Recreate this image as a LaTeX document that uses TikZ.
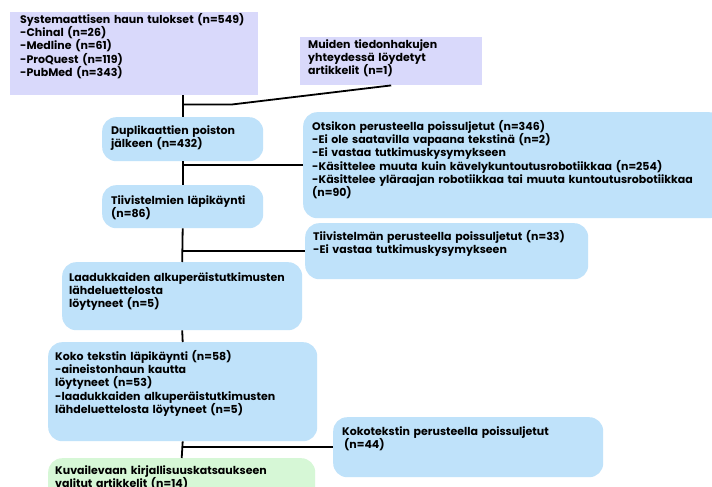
\documentclass[tikz,border=0pt]{standalone}
\usepackage{fontspec}
\setmainfont{Poppins}
\usepackage{tikz}
\usetikzlibrary{calc,positioning}
\definecolor{searchlav}{RGB}{217,217,251}
\definecolor{stageblue}{RGB}{191,226,250}
\definecolor{finalgreen}{RGB}{214,247,214}

\begin{document}
\begin{tikzpicture}[
  x=1pt, y=-1pt,
  font=\fontsize{11}{13.3}\selectfont\bfseries,
  box/.style={anchor=north west, align=left, inner ysep=0pt, inner xsep=8pt},
  search/.style={box, fill=searchlav},
  stage/.style={box, fill=stageblue, rounded corners=14pt},
  excl/.style={stage},
  result/.style={box, fill=finalgreen, rounded corners=14pt},
  link/.style={draw=black, line width=1.8pt}
]
\clip (0,0) rectangle (712,487);
\fill[white] (0,0) rectangle (712,487);
% search results
\node[search, inner xsep=10pt, text width=228pt, text height=11pt, text depth=72pt] (src) at (10,12)
  {Systemaattisen haun tulokset (n=549)\\-Chinal (n=26)\\-Medline (n=61)\\-ProQuest (n=119)\\-PubMed (n=343)};
\node[search, text width=166pt, text height=11pt, text depth=37pt] (other) at (300,37)
  {Muiden tiedonhakujen\\yhteydessä löydetyt\\artikkelit (n=1)};
% screening stages
\node[stage, inner xsep=9pt, text width=143pt, text height=17pt, text depth=27pt] (dup) at (102,117)
  {Duplikaattien poiston\\jälkeen (n=432)};
\node[stage, inner xsep=9pt, text width=143pt, text height=19pt, text depth=24pt] (tiiv) at (102,185)
  {Tiivistelmien läpikäynti\\(n=86)};
\node[stage, inner xsep=7pt, text width=226pt, text height=19pt, text depth=49pt] (laad) at (62,262)
  {Laadukkaiden alkuperäistutkimusten\\lähdeluettelosta\\löytyneet (n=5)};
\node[stage, inner xsep=7pt, text width=255pt, text height=18pt, text depth=81pt] (koko) at (48,342)
  {Koko tekstin läpikäynti (n=58)\\-aineistonhaun kautta\\löytyneet (n=53)\\-laadukkaiden alkuperäistutkimusten\\lähdeluettelosta löytyneet (n=5)};
\node[result, inner xsep=7pt, text width=253pt, text height=16pt, text depth=45pt] (final) at (48,458)
  {Kuvailevaan kirjallisuuskatsaukseen\\valitut artikkelit (n=14)};
% exclusions
\node[excl, inner xsep=9pt, text width=402pt, text height=18pt, text depth=88pt] (exTitle) at (303,112)
  {Otsikon perusteella poissuljetut (n=346)\\-Ei ole saatavilla vapaana tekstinä (n=2)\\-Ei vastaa tutkimuskysymykseen\\-Käsittelee muuta kuin kävelykuntoutusrobotiikkaa (n=254)\\-Käsittelee yläraajan robotiikkaa tai muuta kuntoutusrobotiikkaa\\(n=90)};
\node[excl, text width=267pt, text height=17pt, text depth=39pt] (exAbs) at (305,223)
  {Tiivistelmän perusteella poissuljetut (n=33)\\-Ei vastaa tutkimuskysymykseen};
\node[excl, inner xsep=9pt, text width=252pt, text height=18pt, text depth=42pt] (exFull) at (333,417)
  {Kokotekstin perusteella poissuljetut\\\hspace*{2pt}(n=44)};
% connectors
\coordinate (topjoin) at ($(dup.north |- src.south)+(0,9)$);
\coordinate (bend) at ($(topjoin)+(50,0)$);
\draw[link] (dup.north |- src.south) -- (dup.north);
\draw[link] (topjoin) -- (bend) -- (other.south);
\draw[link] (dup.south) -- (tiiv.north);
\draw[link] (exTitle.west -| dup.south) -- (exTitle.west);
\draw[link] (tiiv.south) -- (laad.north);
\draw[link] (exAbs.west -| tiiv.south) -- (exAbs.west);
\draw[link] (laad.south) -- (koko.north);
\draw[link] (koko.south) -- (final.north);
\draw[link] (exFull.west -| koko.south) -- (exFull.west);
\end{tikzpicture}
\end{document}
